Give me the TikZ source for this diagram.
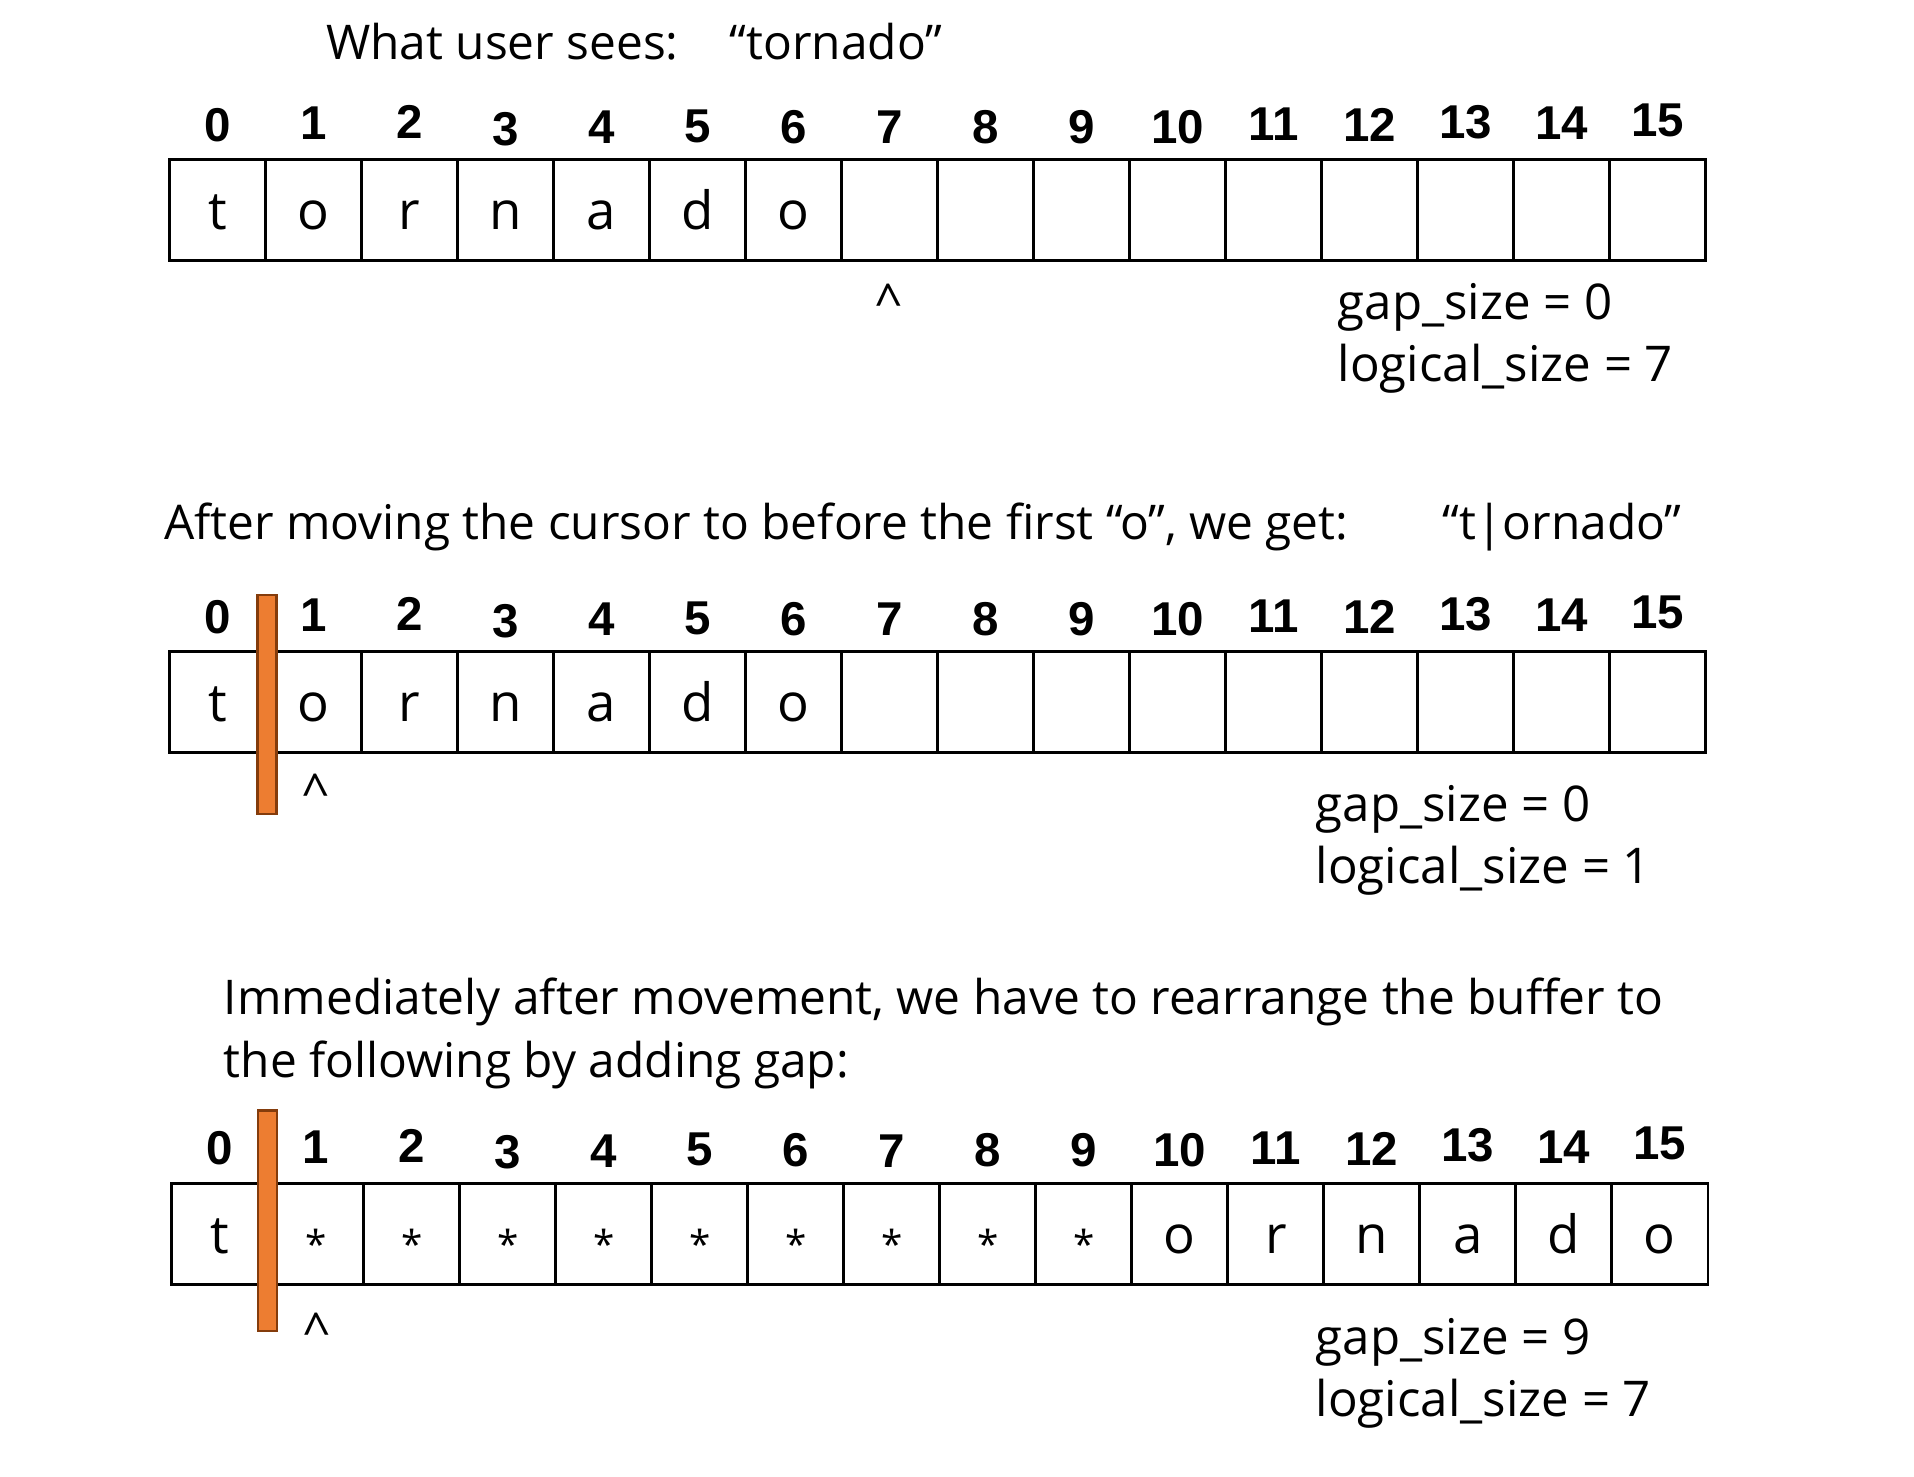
\documentclass[tikz,border=0pt]{standalone}
\usepackage{fontspec}
\setmainfont{Open Sans}
\newfontfamily\digitfont{Liberation Sans}
\usepackage{xcolor}
\usetikzlibrary{positioning}
\definecolor{barfill}{HTML}{ED7D31}
\definecolor{barline}{HTML}{843C0C}
\newcommand{\gapstar}{\raisebox{-0.05cm}{\fontsize{11}{11}\selectfont *}}

\begin{document}
\begin{tikzpicture}[x=0.01cm,y=-0.01cm,
  cell/.style={draw,line width=0.8pt,minimum width=0.96cm,minimum height=1.01cm,inner sep=0pt,outer sep=0pt,
    text height=0.5cm,text depth=0.11cm,font=\fontsize{15}{15}\selectfont},
  index/.style={inner sep=0pt,outer sep=0pt,font=\digitfont\bfseries\fontsize{13.5}{14}\selectfont},
  note/.style={inner sep=0pt,anchor=base west,font=\fontsize{14}{14}\selectfont},
  title/.style={inner sep=0pt,anchor=base west,font=\fontsize{13.6}{13}\selectfont},
  caret/.style={inner sep=0pt,font=\fontsize{14}{14}\selectfont},
  cursor/.style={draw=barline,fill=barfill,line width=0.6pt,minimum width=0.19cm,inner sep=0pt,outer sep=0pt}]

\useasboundingbox (0,0) rectangle (1914,1477);

\node[title] (seen) at (325.5,60) {What user sees:};
\node[title] (seentext) at (729,60) {“tornado”};

\foreach \c [count=\i from 0] in {t,o,r,n,a,d,o}
  \node[cell] (a\i) at ({169.5+96*(\i+0.5)},210.1) {\c};
\foreach \i in {7,...,15}
  \node[cell] (a\i) at ({169.5+96*(\i+0.5)},210.1) {};
\foreach \i/\g in {0/0.18,1/0.20,2/0.21,3/0.14,4/0.16,5/0.17,6/0.16,7/0.16,8/0.16,9/0.16,10/0.16,11/0.19,12/0.18,13/0.21,14/0.20,15/0.23}
  \node[index, above=\g cm of a\i] (na\i) {\i};

\node[caret] (car1) at (889,302) {\textasciicircum};
\node[note] (gap1) at (1337,320) {gap\_size = 0};
\node[note] (log1) at (1337,382) {logical\_size = 7};

\node[title] (moved) at (163.4,540) {After moving the cursor to before the first “o”, we get:};
\node[title] (movedtext) at (1442,540) {“t|ornado”};

\foreach \c [count=\i from 0] in {t,o,r,n,a,d,o}
  \node[cell] (b\i) at ({169.5+96*(\i+0.5)},702.2) {\c};
\foreach \i in {7,...,15}
  \node[cell] (b\i) at ({169.5+96*(\i+0.5)},702.2) {};
\foreach \i/\g in {0/0.18,1/0.20,2/0.21,3/0.14,4/0.16,5/0.17,6/0.16,7/0.16,8/0.16,9/0.16,10/0.16,11/0.19,12/0.18,13/0.21,14/0.20,15/0.23}
  \node[index, above=\g cm of b\i] (nb\i) {\i};

\node[cursor, minimum height=2.19cm] (cur2) at (267,704.5) {};
\node[caret] (car2) at (315.8,792) {\textasciicircum};
\node[note] (gap2) at (1315,822) {gap\_size = 0};
\node[note] (log2) at (1315,884) {logical\_size = 1};

\node[title] (rearr) at (223.2,1015) {Immediately after movement, we have to rearrange the buffer to};
\node[title] (rearr2) at (223.2,1078) {the following by adding gap:};

\node[cell] (c0) at ({171.9+96*0.5},1233.9) {t};
\foreach \i in {1,...,9}
  \node[cell] (c\i) at ({171.9+96*(\i+0.5)},1233.9) {\gapstar};
\foreach \c [count=\i from 10] in {o,r,n,a,d,o}
  \node[cell] (c\i) at ({171.9+96*(\i+0.5)},1233.9) {\c};
\foreach \i/\g in {0/0.18,1/0.20,2/0.21,3/0.14,4/0.16,5/0.17,6/0.16,7/0.16,8/0.16,9/0.16,10/0.16,11/0.19,12/0.18,13/0.21,14/0.20,15/0.23}
  \node[index, above=\g cm of c\i] (nc\i) {\i};

\node[cursor, minimum height=2.2cm] (cur3) at (267.8,1220.6) {};
\node[caret] (car3) at (316.8,1331) {\textasciicircum};
\node[note] (gap3) at (1315,1355) {gap\_size = 9};
\node[note] (log3) at (1315,1417) {logical\_size = 7};

\end{tikzpicture}
\end{document}
